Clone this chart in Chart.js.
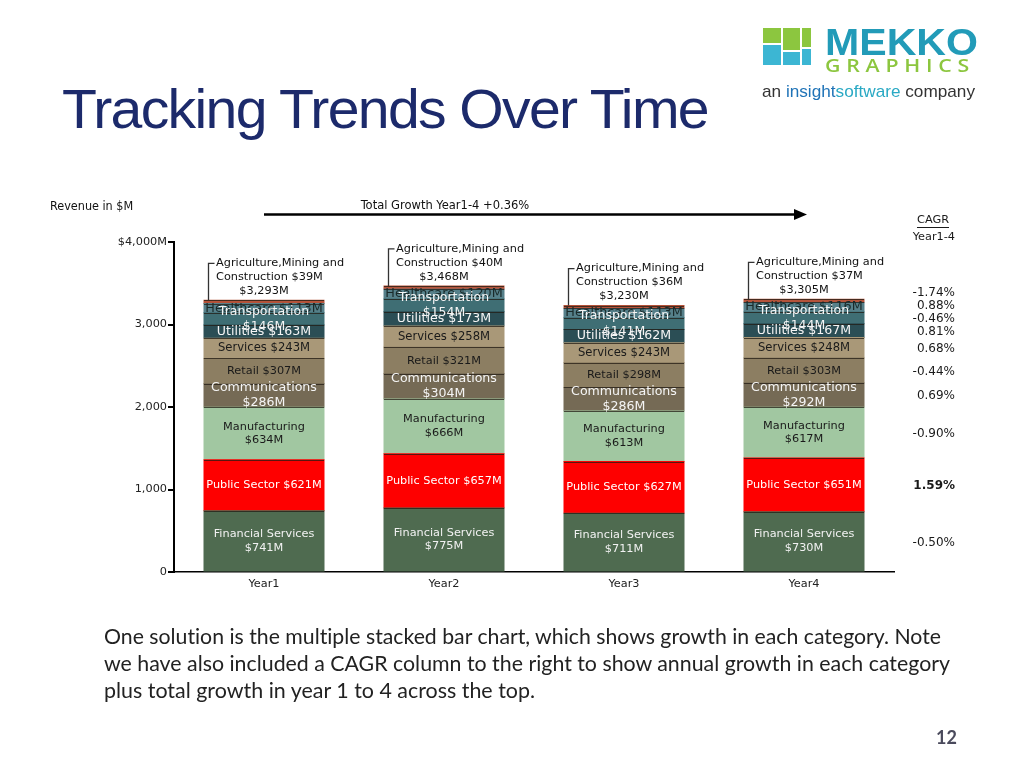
<!DOCTYPE html>
<html><head><meta charset="utf-8">
<script src="https://cdn.jsdelivr.net/npm/chart.js@4.4.1/dist/chart.umd.min.js"></script>
<style>
html,body{margin:0;padding:0;background:#fff;width:1024px;height:768px;overflow:hidden;}
#c{position:absolute;left:0;top:0;}
.abs{position:absolute;white-space:nowrap;}
#title{left:62px;top:76px;font:56px "Liberation Sans",Arial,sans-serif;color:#1c2a6b;letter-spacing:-1.6px;transform-origin:0 0;}
.para{left:104px;font:21px Lato,sans-serif;color:#222;transform-origin:0 0;line-height:27px;font-variant-ligatures:none;font-feature-settings:"liga" 0;}
.sq{position:absolute;}
</style></head><body>
<canvas id="c" width="1024" height="768"></canvas>
<div id="title" class="abs" data-w="646">Tracking Trends Over Time</div>

<div class="sq" style="left:763px;top:28px;width:18px;height:15px;background:#8cc63f"></div>
<div class="sq" style="left:763px;top:45px;width:18px;height:20px;background:#3cb6d3"></div>
<div class="sq" style="left:783px;top:28px;width:17px;height:22px;background:#8cc63f"></div>
<div class="sq" style="left:783px;top:52px;width:17px;height:13px;background:#3cb6d3"></div>
<div class="sq" style="left:802px;top:28px;width:9px;height:19px;background:#8cc63f"></div>
<div class="sq" style="left:802px;top:49px;width:9px;height:16px;background:#3cb6d3"></div>
<div class="abs" data-w="153" style="left:825px;top:21px;font:bold 37.5px 'Liberation Sans',Arial,sans-serif;color:#229bb8;line-height:normal;transform-origin:0 0">MEKKO</div>
<div class="abs" data-w="150" style="left:825px;top:52px;font:600 18.5px 'Open Sans','Liberation Sans',sans-serif;color:#8cc63f;letter-spacing:5px;line-height:normal;transform-origin:0 0">GRAPHICS</div>
<div class="abs" data-w="213" style="left:762px;top:82px;font:17px 'Liberation Sans',Arial,sans-serif;color:#333;line-height:normal;transform-origin:0 0">an <span style="color:#1f73b7">insight</span><span style="color:#2aa9c4">software</span> company</div>

<div class="abs para" style="top:622px" data-w="837">One solution is the multiple stacked bar chart, which shows growth in each category. Note</div>
<div class="abs para" style="top:649px" data-w="846">we have also included a CAGR column to the right to show annual growth in each category</div>
<div class="abs para" style="top:676px" data-w="431">plus total growth in year 1 to 4 across the top.</div>
<div class="abs" style="left:936px;top:726px;font:bold 18px Lato,sans-serif;color:#4a4a5c;line-height:22px">12</div>

<script>
// ---- data ----
const years = ['Year1', 'Year2', 'Year3', 'Year4'];
const financialServices = [741, 775, 711, 730];
const publicSector = [621, 657, 627, 651];
const manufacturing = [634, 666, 613, 617];
const communications = [286, 304, 286, 292];
const retail = [307, 321, 298, 303];
const services = [243, 258, 243, 248];
const utilities = [163, 173, 162, 167];
const transportation = [146, 154, 141, 144];
const healthcare = [113, 120, 113, 116];
const agriculture = [39, 40, 36, 37];
const totalLabels = ['$3,293M', '$3,468M', '$3,230M', '$3,305M'];
const cagrLabels = ['-0.50%', '1.59%', '-0.90%', '0.69%', '-0.44%', '0.68%', '0.81%', '-0.46%', '0.88%', '-1.74%'];
const yTickValues = [0, 1000, 2000, 3000, 4000];
const yTickLabels = ['0', '1,000', '2,000', '3,000', '$4,000M'];
const seriesNames = ['Financial Services', 'Public Sector', 'Manufacturing', 'Communications', 'Retail', 'Services', 'Utilities', 'Transportation', 'Healthcare', 'Agriculture,Mining and Construction'];
const seriesData = [financialServices, publicSector, manufacturing, communications, retail, services, utilities, transportation, healthcare, agriculture];

// ---- styles ----
const fillColors = ['#4f6b50', '#fe0000', '#a1c7a1', '#756a55', '#8c7e62', '#a99878', '#2b4e55', '#3f6e74', '#56808a', '#b5533a'];
const textColors = ['#f2f2f2', '#ffffff', '#1a1a1a', '#f5f5f5', '#1a1a1a', '#1a1a1a', '#f5f5f5', '#f5f5f5', '#1a2a2a', '#111'];
const twoLine = [true, false, true, true, false, false, false, true, false, false];
const labelSizes = [11.3, 11.3, 11.3, 12.6, 11.3, 11.6, 12.6, 12.5, 12.8, 11.3];
const FONT = '"DejaVu Sans", Verdana, sans-serif';
const NARROW = '"Liberation Sans Narrow", "DejaVu Sans Condensed", sans-serif';

const annot = {
  id: 'annot',
  afterDatasetsDraw(chart) {
    const ctx = chart.ctx;
    ctx.save();
    const last = seriesData.length - 1;
    // segment separators
    ctx.strokeStyle = 'rgba(35,28,20,0.75)';
    ctx.lineWidth = 1;
    for (let k = 0; k <= last; k++) {
      chart.getDatasetMeta(k).data.forEach(bar => {
        const yy = Math.round(bar.y) + 0.5;
        ctx.beginPath();
        ctx.moveTo(bar.x - bar.width / 2, yy);
        ctx.lineTo(bar.x + bar.width / 2, yy);
        ctx.stroke();
      });
    }
    ctx.textAlign = 'center';
    ctx.textBaseline = 'middle';
    for (let k = last - 1; k >= 0; k--) {
      const meta = chart.getDatasetMeta(k);
      ctx.font = labelSizes[k] + 'px ' + FONT;
      ctx.fillStyle = textColors[k];
      const lh = labelSizes[k] * 1.22;
      meta.data.forEach((bar, i) => {
        const cy = (bar.y + bar.base) / 2;
        const txt = '$' + seriesData[k][i] + 'M';
        const lines = twoLine[k] ? [seriesNames[k], txt] : [seriesNames[k] + ' ' + txt];
        lines.forEach((t, j) => ctx.fillText(t, bar.x, cy + (j - (lines.length - 1) / 2) * lh));
      });
    }
    const am = chart.getDatasetMeta(last);
    ctx.font = '11.3px ' + FONT;
    ctx.fillStyle = '#111';
    am.data.forEach((bar, i) => {
      const top = bar.y;
      const left = bar.x - bar.width / 2;
      ctx.strokeStyle = '#333';
      ctx.lineWidth = 1.3;
      ctx.beginPath();
      ctx.moveTo(left + 4.5, top);
      ctx.lineTo(left + 4.5, top - 37);
      ctx.lineTo(left + 10.5, top - 37);
      ctx.stroke();
      ctx.textAlign = 'left';
      ctx.fillText('Agriculture,Mining and', left + 12, top - 37);
      ctx.fillText('Construction $' + agriculture[i] + 'M', left + 12, top - 23);
      ctx.textAlign = 'center';
      ctx.fillText(totalLabels[i], bar.x, top - 9);
    });
    ctx.restore();
  },
  afterDraw(chart) {
    const ctx = chart.ctx, xs = chart.scales.x, ca = chart.chartArea;
    ctx.save();
    ctx.fillStyle = '#111';
    ctx.textBaseline = 'middle';
    ctx.textAlign = 'left';
    ctx.font = '12.5px ' + NARROW;
    ctx.fillText('Revenue in $M', 50, 207);
    ctx.textAlign = 'center';
    ctx.font = '12.8px ' + NARROW;
    ctx.fillText('Total Growth Year1-4 +0.36%', xs.getPixelForValue(1) + 1, 206);
    // arrow
    const x0 = xs.getPixelForValue(0), x1 = xs.getPixelForValue(3) + 3;
    ctx.strokeStyle = '#000';
    ctx.fillStyle = '#000';
    ctx.lineWidth = 2.5;
    ctx.beginPath(); ctx.moveTo(x0, 214.5); ctx.lineTo(x1 - 11, 214.5); ctx.stroke();
    ctx.beginPath(); ctx.moveTo(x1, 214.5); ctx.lineTo(x1 - 13, 209); ctx.lineTo(x1 - 13, 220); ctx.closePath(); ctx.fill();
    // CAGR column
    ctx.fillStyle = '#1a1a1a';
    ctx.font = '11.3px ' + FONT;
    ctx.textAlign = 'center';
    const cx = ca.right + 39;
    ctx.fillText('CAGR', cx, 220);
    const w = ctx.measureText('CAGR').width;
    ctx.strokeStyle = '#1a1a1a'; ctx.lineWidth = 1;
    ctx.beginPath(); ctx.moveTo(cx - w / 2, 227.5); ctx.lineTo(cx + w / 2, 227.5); ctx.stroke();
    ctx.textAlign = 'right';
    const rx = ca.right + 61;
    ctx.fillText('Year1-4', rx, 237);
    let prev = Infinity;
    for (let k = 0; k < seriesData.length; k++) {
      const bar = chart.getDatasetMeta(k).data[3];
      let c = (bar.y + bar.base) / 2;
      c = Math.min(c, prev - 13);
      prev = c;
      ctx.font = (k === 1 ? 'bold ' : '') + '12px ' + FONT;
      ctx.fillText(cagrLabels[k], rx, c + 1);
    }
    ctx.restore();
  }
};

Chart.defaults.font.family = FONT;
Chart.defaults.font.size = 11.3;
Chart.defaults.color = '#222';

new Chart(document.getElementById('c'), {
  type: 'bar',
  data: {
    labels: years,
    datasets: seriesData.map((d, k) => ({
      label: seriesNames[k],
      data: d,
      backgroundColor: fillColors[k],
      borderWidth: 0,
      inflateAmount: 0.5,
      categoryPercentage: 1,
      barPercentage: 2 / 3
    }))
  },
  options: {
    responsive: false,
    animation: false,
    devicePixelRatio: 1,
    layout: { padding: { left: 0, right: 130, top: 242, bottom: 0 } },
    plugins: { legend: { display: false }, tooltip: { enabled: false } },
    scales: {
      x: {
        stacked: true,
        grid: { display: false, drawTicks: false },
        border: { display: true, color: '#000', width: 1.5 },
        ticks: { padding: 5, color: '#222', font: { size: 11.3 } },
        afterFit(s) { s.height = 196; }
      },
      y: {
        stacked: true,
        min: 0, max: 4000,
        afterBuildTicks(s) { s.ticks = yTickValues.map(v => ({ value: v })); },
        grid: { display: true, drawOnChartArea: false, drawTicks: true, tickLength: 6, color: '#000', lineWidth: 2 },
        border: { display: true, color: '#000', width: 2 },
        ticks: {
          padding: 1, color: '#222', font: { size: 11.3 },
          callback(v) { const i = yTickValues.indexOf(v); return i >= 0 ? yTickLabels[i] : ''; }
        },
        afterFit(s) { s.width = 174; }
      }
    }
  },
  plugins: [annot]
});

function fit() {
  document.querySelectorAll('[data-w]').forEach(el => {
    el.style.transform = 'none';
    const w = el.getBoundingClientRect().width;
    if (w > 0) el.style.transform = 'scaleX(' + (el.dataset.w / w) + ')';
  });
}
fit();
if (document.fonts && document.fonts.ready) document.fonts.ready.then(fit);
</script>
</body></html>
